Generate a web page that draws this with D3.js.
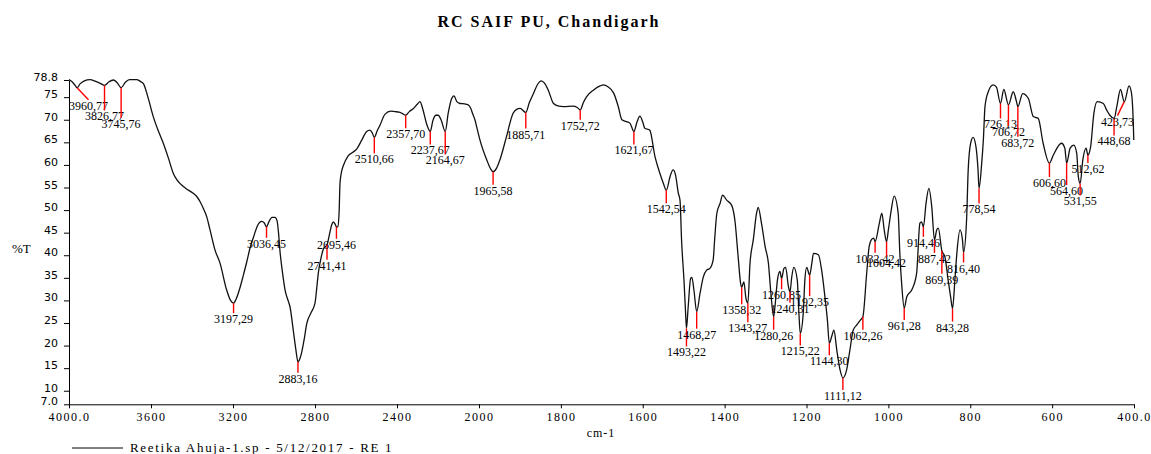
<!DOCTYPE html>
<html><head><meta charset="utf-8">
<script src="https://cdn.jsdelivr.net/npm/d3@7"></script>
<style>body{margin:0;background:#fff} svg{display:block}</style>
</head><body><svg id="c" width="1151" height="454"></svg>
<script>
// ---- data ----
const wavenumbers = [
4000,3985,3970,3960.77,3945,3925,3898,3870,3845,3826.77,3805,3784,3765,3745.76,3725,3705,3670,3652,3637,3615,
3589,3565,3540,3515,3491,3475,3459,3430,3394,3375,3361,3345,3328,3312,3288,3263,3231,3212,3197.29,3183,
3166,3150,3133,3117,3100,3080,3060,3048,3036.45,3025,3010,2995,2985,2978,2971,2958,2946,2930,2922,2906,
2893,2883.16,2873,2865,2852,2840,2820,2800,2792,2784,2770,2759,2741.41,2730,2718,2711,2702,2695.46,2688,2682,
2678,2670,2662,2640,2615,2597,2572,2548,2532,2520,2510.66,2497,2483,2459,2430,2410,2390,2375,2357.70,2340,
2320,2300,2288,2275,2255,2237.67,2225,2210,2199,2185,2164.67,2150,2135,2122,2108,2093,2070,2053,2040,2030,
2020,2008,1997.6,1981,1972,1965.58,1957,1949,1933,1917,1908,1899.5,1885.71,1877,1867,1857,1848,1840,1831,1818,
1805,1794,1770,1760,1752.72,1745,1737,1720,1704,1696,1685,1671,1660,1651,1640,1631,1621.67,1614,1607,1600,
1595,1583,1570,1558,1550,1542.54,1533,1526,1520,1513,1509,1505,1499.3,1495.5,1493.22,1489,1483,1480,1475,1468.27,
1460,1452,1444,1436,1428,1424,1419,1411,1405,1395,1383,1375,1367,1361,1358.32,1353,1348,1343.27,1338,1330,
1322,1318,1310,1301,1293,1287,1280.26,1277,1271,1265,1260.85,1255,1251,1244,1240.31,1236,1231,1222.5,1218.5,1215.22,
1208,1204,1199.5,1192.35,1187,1183,1171,1163,1155,1149,1144.30,1138.5,1133,1126,1118,1111.12,1102,1094,1086,1077,1068,
1062.26,1053,1047,1041,1036,1032.42,1022,1016,1010,1004.42,1000,993,986,976,972,967,961.28,955,943,931,
923,919,914.46,908,901,894,887.42,882,878,869.39,862,854,848,843.28,837,832,825,819,816.40,809,
805,799,793,786,781,778.54,772,768,764,756,744,736,726.13,718,706.72,695,687,683.72,672,658,
646,634,622,606.60,597,577,569,564.60,556,547,540,536,531.55,525,517,512.62,506,498,490,475,
467,459,448.68,442,433,423.73,412,406,402,400.5];
const transmittance = [
78.9,78.4,77.6,77.1,78.0,78.6,78.9,78.5,78.0,77.6,78.4,78.8,78.2,77.1,78.3,78.9,78.9,78.5,78.0,75.0,
70.7,67.6,64.8,61.5,58.1,56.8,55.9,54.8,53.7,52.9,51.9,50.4,48.5,45.6,41.2,38.2,32.3,30.0,29.4,30.5,
32.8,35.5,38.5,41.6,44.0,46.6,47.5,47.2,46.3,47.4,48.4,48.4,47.6,45.0,41.0,36.0,32.3,29.8,28.6,23.4,
19.0,16.4,17.2,18.5,21.6,24.9,27.2,29.4,32.5,36.0,39.5,41.4,42.3,44.5,46.8,47.4,46.9,46.3,46.3,50.0,
56.0,58.6,59.8,61.9,62.8,63.5,65.5,67.4,67.7,67.0,66.1,67.5,68.8,71.2,71.9,71.8,71.7,71.4,71.0,71.8,
72.5,73.5,74.0,72.5,69.0,67.4,69.8,71.0,71.0,70.0,67.4,71.5,74.5,75.3,74.0,73.6,73.5,73.3,72.5,71.2,
70.0,67.8,65.5,61.1,59.2,58.5,59.3,61.1,66.2,71.4,72.3,72.5,71.6,73.8,75.8,77.8,78.6,78.1,76.6,73.6,
73.0,72.9,73.0,72.7,72.2,73.8,75.1,76.6,77.5,77.7,77.3,75.9,73.0,70.0,69.6,69.2,67.4,69.5,70.8,69.5,
68.1,67.7,61.8,58.1,56.0,54.4,57.5,58.9,57.8,53.7,52.2,43.0,34.5,27.5,23.8,28.6,34.9,35.1,32.3,27.5,
31.6,35.2,36.7,37.1,39.0,44.0,49.3,51.5,53.3,52.2,51.1,47.8,39.7,33.8,32.9,34.1,30.5,29.4,38.2,43.4,
49.3,50.6,47.1,41.9,38.2,31.6,26.4,28.6,34.5,36.4,34.9,37.1,37.3,33.0,31.9,35.2,37.3,34.5,27.1,22.7,
27.1,34.5,37.3,35.6,38.2,40.4,40.1,36.7,30.8,25.7,20.5,22.0,23.4,19.0,14.6,12.8,14.6,19.0,23.4,24.6,25.7,
26.4,36.0,41.9,43.5,43.8,43.0,47.1,49.3,45.5,43.0,45.6,50.0,53.1,49.3,40.4,33.0,28.3,30.8,32.3,36.0,
47.1,47.4,46.3,51.5,54.8,50.7,43.4,45.6,46.0,41.0,39.7,34.5,30.8,28.2,35.2,41.2,45.6,43.4,40.6,47.8,
58.9,64.8,66.1,64.0,58.9,54.8,60.4,65.5,72.9,76.2,77.7,77.2,73.6,76.7,73.3,76.2,74.0,72.9,75.8,74.7,
70.7,70.3,64.8,60.4,62.2,64.8,63.7,60.4,63.7,64.4,62.6,57.4,55.9,61.1,63.7,62.2,64.0,71.4,74.0,73.6,
72.2,71.0,70.3,72.9,76.7,74.0,77.5,75.8,70.0,65.5];
const peakWavenumbers = [3960.77,3826.77,3745.76,3197.29,3036.45,2883.16,2741.41,2695.46,2510.66,2357.70,
2237.67,2164.67,1965.58,1885.71,1752.72,1621.67,1542.54,1493.22,1468.27,1358.32,1343.27,1280.26,1260.85,
1240.31,1215.22,1192.35,1144.30,1111.12,1062.26,1032.42,1004.42,961.28,914.46,887.42,869.39,843.28,816.40,
778.54,726.13,706.72,683.72,606.60,564.60,531.55,512.62,448.68,423.73];
const xTickValues = [4000,3600,3200,2800,2400,2000,1800,1600,1400,1200,1000,800,600,400];
const xTickLabels = ["4000.0","3600","3200","2800","2400","2000","1800","1600","1400","1200","1000","800","600","400.0"];
const yTickValues = [78.8,75,70,65,60,55,50,45,40,35,30,25,20,15,10,7];
const yTickLabels = ["78.8","75","70","65","60","55","50","45","40","35","30","25","20","15","10","7.0"];
const titleText = "RC SAIF PU, Chandigarh";
const legendText = "Reetika Ahuja-1.sp - 5/12/2017 - RE 1";

// ---- layout (label leader lengths, px) ----
const labelDrop = [12,25,30,10,11,11,15,12,16,13,13,23,13,16,10,13,13,18,17,17,19,13,11,11,12,21,12,12,13,11,15,12,10,13,23,13,10,15,15,21,30,14,22,12,8,17,14];

const svg = d3.select("#c");
const x = d3.scaleLinear().domain([4000,2000,400]).range([69,479,1134]);
const y = d3.scaleLinear().domain([7,78.8]).range([404.3,80]);
const serif = "'Liberation Serif','Times New Roman',serif";

// title
svg.append("text").attr("x",549).attr("y",27).attr("text-anchor","middle")
  .attr("font-family",serif).attr("font-weight","bold").attr("font-size",16)
  .attr("letter-spacing","2px").text(titleText);

// axes
const xAxis = d3.axisBottom(x).tickValues(xTickValues).tickFormat((d,i)=>xTickLabels[i]).tickSize(4).tickSizeOuter(0);
const gx = svg.append("g").attr("transform","translate(0,404.3)").call(xAxis);
gx.selectAll("text").attr("y",17).attr("dy",0).attr("font-family",serif).attr("font-size",12).attr("letter-spacing","1.5px").attr("fill","#000");
gx.selectAll("line,path").attr("stroke","#000");

const yAxis = d3.axisLeft(y).tickValues(yTickValues).tickFormat((d,i)=>yTickLabels[i]).tickSize(5).tickPadding(6).tickSizeOuter(0);
const gy = svg.append("g").attr("transform","translate(69,0)").call(yAxis);
gy.selectAll("text").attr("dy","0.05em").attr("font-family","'DejaVu Sans',Verdana,sans-serif").attr("font-size",11).attr("fill","#000");
gy.selectAll("line,path").attr("stroke","#000");

svg.append("text").attr("x",12).attr("y",253).attr("font-family",serif).attr("font-size",13).text("%T");
svg.append("text").attr("x",601).attr("y",437).attr("text-anchor","middle").attr("font-family",serif).attr("font-size",12).attr("letter-spacing","1px").text("cm-1");

// spectrum
const pts = wavenumbers.map((w,i)=>[w,transmittance[i]]);
const line = d3.line().x(d=>x(d[0])).y(d=>y(d[1])).curve(d3.curveMonotoneX);
svg.append("path").datum(pts).attr("d",line).attr("fill","none").attr("stroke","#111").attr("stroke-width",1.3);

// peak labels
const gp = svg.append("g");
peakWavenumbers.forEach((w,i)=>{
  const j = wavenumbers.indexOf(w);
  const px = x(w), py = y(transmittance[j]);
  const L = labelDrop[i];
  const t = gp.append("text").attr("font-family",serif).attr("font-size",12).attr("text-anchor","middle")
    .text(w.toFixed(2).replace(".",","));
  const tw = t.node().getComputedTextLength();
  const lx = Math.max(69+tw/2, Math.min(1134-tw/2, px));
  t.attr("x",lx).attr("y",py+L+10);
  gp.append("line").attr("x1",px).attr("y1",py).attr("x2",lx).attr("y2",py+L)
    .attr("stroke","#ff0000").attr("stroke-width",1.4);
});

// legend
svg.append("line").attr("x1",72).attr("x2",123).attr("y1",448).attr("y2",448).attr("stroke","#000");
svg.append("text").attr("x",130).attr("y",452).attr("font-family",serif).attr("font-size",13)
  .attr("letter-spacing","1.7px").text(legendText);
</script></body></html>
